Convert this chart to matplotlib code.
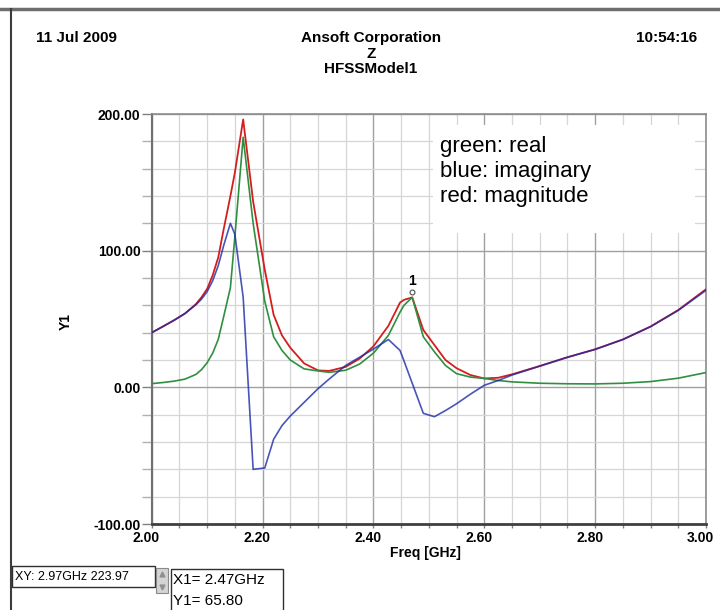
import matplotlib
matplotlib.use("Agg")
import matplotlib.pyplot as plt
import matplotlib.transforms as mtransforms
from matplotlib.patches import Rectangle
from matplotlib.lines import Line2D
from matplotlib.ticker import MultipleLocator, FormatStrFormatter

plt.rcParams['font.family'] = ['Liberation Sans', 'DejaVu Sans']

# Z of HFSSModel1 vs frequency
freq = [2.00, 2.02, 2.04, 2.06, 2.08, 2.09, 2.10, 2.11, 2.12, 2.13,
        2.142, 2.15, 2.165, 2.183, 2.204, 2.22, 2.235, 2.25, 2.275, 2.30,
        2.32, 2.35, 2.375, 2.40, 2.427, 2.448, 2.455, 2.47, 2.49, 2.51,
        2.53, 2.55, 2.575, 2.60, 2.625, 2.65, 2.70, 2.75, 2.80, 2.85,
        2.90, 2.95, 3.00]
z_mag = [40, 44.5, 49, 54, 61, 66, 72, 82, 95, 116,
         140, 157, 196, 136, 86, 53, 38, 29, 17.5, 12.4,
         12, 15, 21, 30, 45, 62, 64, 65.8, 42, 31,
         20, 14, 9, 6.5, 7, 9.5, 15.6, 22, 27.8, 35,
         44.5, 56.6, 71.8]
z_real = [2.7, 3.5, 4.5, 6, 9.5, 13, 18, 25, 35, 52,
          73, 110, 183, 120, 63, 37, 27, 20, 13.5, 12,
          11, 12.5, 17, 25, 38, 55, 60, 65.8, 37, 26,
          16, 10, 7.5, 6.5, 5, 4, 3, 2.6, 2.5, 3,
          4.2, 6.7, 10.8]
z_imag = [40, 44.4, 49, 54, 60.5, 64.6, 70, 78, 89, 104,
          120, 112, 66, -60, -59, -38, -28, -21, -11, -1,
          6, 16, 22, 28, 35, 27, 19.5, 3, -19, -21.5,
          -17, -12, -5, 1.5, 5, 9, 15.5, 22, 27.8, 35,
          44.4, 56.3, 71]

marker_x = 2.47
marker_y = 65.80
legend_lines = ["green: real", "blue: imaginary", "red: magnitude"]

W, H = 720, 610
fig = plt.figure(figsize=(7.2, 6.1), dpi=100)

def fx(px):
    return px / W

def fy(py):
    return 1 - py / H

ax = fig.add_axes([fx(151.7), fy(524), (706 - 151.7) / W, (524 - 114) / H])

ax.plot(freq, z_mag, color='#d41e1e', lw=1.3, zorder=3)
ax.plot(freq, z_real, color='#2f8f40', lw=1.2, zorder=3.5)
ax.plot(freq, z_imag, color='#1c2aa8', lw=1.2, alpha=0.8, zorder=4)

# marker 1
ax.plot([marker_x], [marker_y], marker='o', ms=3.5, mfc='white', mec='#505050',
        mew=0.8, zorder=5,
        transform=ax.transData + mtransforms.ScaledTranslation(0, 4 / 72, fig.dpi_scale_trans))
ax.annotate("1", (marker_x, marker_y), xytext=(0, 7), textcoords='offset points',
            ha='center', va='bottom', fontsize=10, fontweight='bold', zorder=5)

ax.set_xlim(2.0, 3.0)
ax.set_ylim(-100, 200)
ax.xaxis.set_major_locator(MultipleLocator(0.2))
ax.xaxis.set_minor_locator(MultipleLocator(0.05))
ax.yaxis.set_major_locator(MultipleLocator(100))
ax.yaxis.set_minor_locator(MultipleLocator(20))
ax.xaxis.set_major_formatter(FormatStrFormatter('%.2f'))
ax.yaxis.set_major_formatter(FormatStrFormatter('%.2f'))

ax.set_axisbelow(True)
ax.grid(which='major', color='#a0a0a0', lw=1.0)
ax.grid(which='minor', color='#d6d6d6', lw=0.9)

ax.tick_params(axis='y', which='major', direction='out', length=7, width=1,
               color='#808080', pad=1, labelsize=10)
ax.tick_params(axis='y', which='minor', direction='out', length=7, width=1,
               color='#b0b0b0')
ax.tick_params(axis='x', which='both', direction='out', length=3, width=1,
               color='#808080', pad=2, labelsize=10)
for lab in ax.get_xticklabels() + ax.get_yticklabels():
    lab.set_fontweight('bold')
for lab in ax.get_xticklabels():
    lab.set_transform(lab.get_transform() +
                      mtransforms.ScaledTranslation(-4 / 72, 0, fig.dpi_scale_trans))

for side in ['top', 'right']:
    ax.spines[side].set_color('#8c8c8c')
    ax.spines[side].set_linewidth(1.2)
ax.spines['left'].set_color('#707070')
ax.spines['left'].set_linewidth(1.5)
ax.spines['bottom'].set_color('#404040')
ax.spines['bottom'].set_linewidth(2)

# legend note box
ax.add_patch(Rectangle((0.5075, 0.71), 0.4725, 0.263, transform=ax.transAxes,
                       facecolor='white', edgecolor='none', zorder=2.5))
for i, txt in enumerate(legend_lines):
    ax.text(0.520, 0.920 - i * 0.061, txt, transform=ax.transAxes,
            fontsize=16, va='center', ha='left', zorder=6)

# header
fig.text(fx(36), fy(38), "11 Jul 2009", fontsize=11, fontweight='bold', va='center')
fig.text(fx(371), fy(38), "Ansoft Corporation", fontsize=11, fontweight='bold',
         va='center', ha='center')
fig.text(fx(371), fy(54), "Z", fontsize=11, fontweight='bold', va='center', ha='center')
fig.text(fx(371), fy(69), "HFSSModel1", fontsize=11, fontweight='bold',
         va='center', ha='center')
fig.text(fx(697), fy(38), "10:54:16", fontsize=11, fontweight='bold',
         va='center', ha='right')

fig.text(fx(66), fy(322), "Y1", fontsize=10, fontweight='bold', rotation=90,
         va='center', ha='center')
fig.text(fx(425), fy(553), "Freq [GHz]", fontsize=10, fontweight='bold',
         va='center', ha='center')

# window frame
fig.add_artist(Line2D([0, 1], [fy(9), fy(9)], color='#6e6e6e', lw=2.5))
fig.add_artist(Line2D([fx(11), fx(11)], [fy(9), 0], color='#3c3c3c', lw=1.5))

# readout widgets
fig.add_artist(Rectangle((fx(12), fy(587)), (155 - 12) / W, 21 / H,
                         transform=fig.transFigure, facecolor='white',
                         edgecolor='#303030', lw=1))
fig.text(fx(15), fy(577), "XY: 2.97GHz 223.97", fontsize=9, va='center')
fig.add_artist(Rectangle((fx(156), fy(593)), 12 / W, 25 / H,
                         transform=fig.transFigure, facecolor='#d4d4d4',
                         edgecolor='#8a8a8a', lw=0.8))
fig.add_artist(Line2D([fx(162)], [fy(574)], marker='^', ms=3.5, color='#909090'))
fig.add_artist(Line2D([fx(162)], [fy(587)], marker='v', ms=3.5, color='#909090'))
fig.add_artist(Rectangle((fx(171), fy(612)), (283 - 171) / W, 43 / H,
                         transform=fig.transFigure, facecolor='white',
                         edgecolor='#303030', lw=1))
fig.text(fx(173), fy(580), "X1= 2.47GHz", fontsize=11, va='center')
fig.text(fx(173), fy(601), "Y1= 65.80", fontsize=11, va='center')

fig.savefig("out.png", dpi=100)
